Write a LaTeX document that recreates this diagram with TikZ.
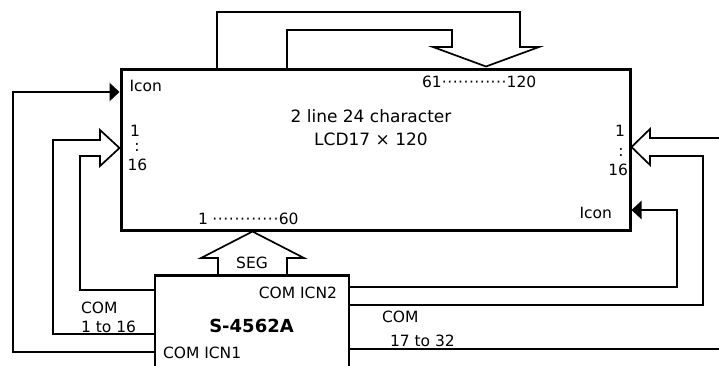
\documentclass[tikz,border=0pt]{standalone}
\usepackage{fontspec}
\setmainfont{DejaVu Sans}
\usetikzlibrary{arrows.meta}
\newcommand\dotrun[1]{\xleaders\hbox to 5.4pt{\hss·\hss}\hskip#1\relax}
\begin{document}
\begin{tikzpicture}[x=1pt,y=-1pt,
  thinln/.style={line width=1.7pt},
  iconln/.style={line width=2.7pt,-{Triangle[length=10pt,width=18pt]},shorten >=1.5pt},
  lbl/.style={font=\fontsize{15.5}{17}\selectfont,inner sep=0pt,outer sep=0pt},
  mainlbl/.style={font=\fontsize{17}{19}\selectfont,inner sep=0pt,outer sep=0pt},
  boldlbl/.style={font=\fontsize{18}{20}\selectfont\bfseries,inner sep=0pt,outer sep=0pt}]
\useasboundingbox (0,0) rectangle (719,365);
\clip (0,0) rectangle (719,365);
% LCD panel
\node[draw,line width=3pt,minimum width=509pt,minimum height=161pt,inner sep=0pt,outer sep=0pt] (lcd) at (375.5,149.5) {};
% driver IC (open at the bottom of the picture)
\node[draw,line width=2.5pt,minimum width=194pt,minimum height=110pt,inner sep=0pt,outer sep=0pt] (ic) at (252,330.5) {};
% texts in the LCD
\node[mainlbl,anchor=base] (t1) at (371,122) {2 line 24 character};
\node[mainlbl,anchor=base] (t2) at (371,145) {LCD17 × 120};
\node[lbl,anchor=base west] (iconL) at (129.5,91) {Icon};
\node[lbl,anchor=base east] (iconR) at (612,218) {Icon};
\node[lbl,anchor=base] (l1) at (135,136) {1};
\node[lbl,anchor=base] (lc) at (137,151) {:};
\node[lbl,anchor=base] (l16) at (137.5,170) {16};
\node[lbl,anchor=base] (r1) at (620,136) {1};
\node[lbl,anchor=base] (rc) at (621,156) {:};
\node[lbl,anchor=base east] (r16) at (628,175) {16};
\node[lbl,anchor=base west] (seg2) at (422,87) {61\dotrun{65pt}120};
\node[lbl,anchor=base west] (seg1) at (198,224) {1\hskip4pt\dotrun{67pt}60};
% texts of the IC
\node[lbl,anchor=base] (seg) at (252,268) {SEG};
\node[lbl,anchor=base east] (icn2) at (337,298) {COM ICN2};
\node[boldlbl,anchor=base] (name) at (251.5,332) {S-4562A};
\node[lbl,anchor=base west] (icn1) at (163,358) {COM ICN1};
\node[lbl,anchor=base west] (comL) at (81,313) {COM};
\node[lbl,anchor=base west] (comL2) at (81,332) {1 to 16};
\node[lbl,anchor=base west] (comR) at (382,322) {COM};
\node[lbl,anchor=base west] (comR2) at (390,346) {17 to 32};
% Icon lines
\draw[iconln] (ic.west |- 0,352) -| (13,92) -- (lcd.west |- 0,92);
\draw[iconln] (ic.east |- 0,287) -| (677,210) -- (lcd.east |- 0,210);
% COM 1 to 16 hollow arrow
\draw[thinln] (ic.west |- 0,334) -| (53,140) -- (100,140) -- (100,130) -- (119.5,148)
  -- (100,166) -- (100,156) -- (80,156) |- (ic.west |- 0,290);
% COM 17 to 32 hollow arrow
\draw[thinln] (730,138) -- (650,138) -- (650,129) -- (631.5,147) -- (650,165)
  -- (650,156) -- (703,156) |- (ic.east |- 0,305);
\draw[thinln] (ic.east |- 0,349) -- (730,349);
% SEG 61..120 hollow arrow over the top
\draw[thinln] (lcd.north -| 217,0) |- (520,12) -- (520,47) -- (539,47) -- (486,66.5)
  -- (433,47) -- (452,47) |- (287,30) -- (lcd.north -| 287,0);
% SEG 1..60 hollow arrow
\draw[thinln] (ic.north -| 218,0) -- (218,258) -- (201,258) -- (252.5,231.5)
  -- (304,258) -- (287,258) -- (ic.north -| 287,0);
\end{tikzpicture}
\end{document}
